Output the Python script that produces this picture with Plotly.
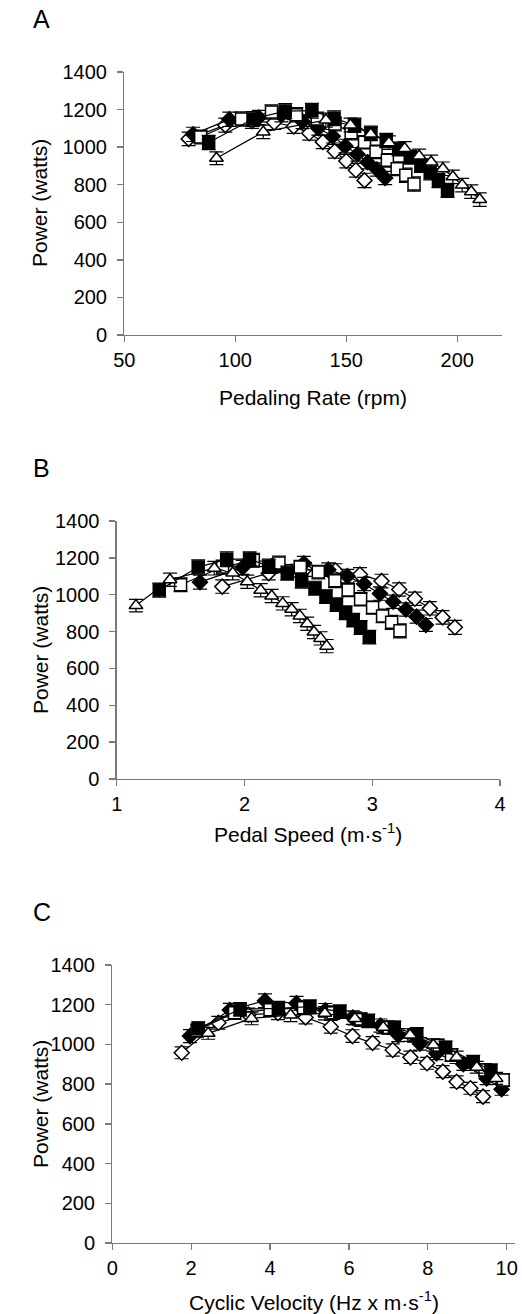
import plotly.graph_objects as go

W, H = 522, 1314

# ---------------- Panel A: pedaling rate (rpm) ----------------
rpm_open_diamond = [79, 95.5, 107.5, 117.5, 126.3, 133.3, 139.4, 144.8, 150, 154.3, 158.2]
rpm_filled_diamond = [81, 97.3, 110.6, 120.8, 130.3, 137.4, 143.9, 149.6, 155, 159.6, 163.8, 167.5]
rpm_open_square = [84.4, 102.8, 116.3, 127.5, 136.9, 144.9, 152.2, 158.2, 163.4, 168.5, 172.9, 176.8, 180.5]
rpm_filled_square = [88, 108, 122.5, 134.5, 144.5, 153.7, 161.1, 168, 173.6, 178.8, 183.6, 187.8, 191.5, 195.6]
rpm_triangle = [91.5, 112.6, 140.8, 151.9, 161, 169.2, 176.3, 182.8, 188.2, 193.5, 198, 202.2, 206.3, 210.1]

# ---------------- Panel B: pedal speed (m/s) ----------------
ps_open_diamond = [1.826, 2.19, 2.473, 2.712, 2.904, 3.073, 3.211, 3.334, 3.451, 3.551, 3.647]
ps_filled_diamond = [1.652, 1.986, 2.26, 2.465, 2.656, 2.805, 2.937, 3.06, 3.164, 3.264, 3.347, 3.42]
ps_open_square = [1.5, 1.829, 2.069, 2.27, 2.437, 2.578, 2.708, 2.812, 2.909, 3.003, 3.081, 3.152, 3.217]
ps_filled_square = [1.333, 1.638, 1.861, 2.04, 2.19, 2.335, 2.448, 2.552, 2.638, 2.72, 2.792, 2.851, 2.909, 2.977]
ps_triangle = [1.151, 1.417, 1.764, 1.908, 2.022, 2.127, 2.213, 2.299, 2.369, 2.434, 2.491, 2.544, 2.596, 2.643]

# Power (watts), shared by panels A and B
pw_open_diamond = [1044, 1117, 1138, 1131, 1110, 1074, 1028, 978, 926, 877, 823]
pw_filled_diamond = [1068, 1148, 1158, 1171, 1136, 1101, 1058, 1006, 962, 920, 881, 836]
pw_open_square = [1054, 1150, 1187, 1172, 1150, 1123, 1076, 1026, 975, 930, 885, 850, 804]
pw_filled_square = [1025, 1150, 1192, 1194, 1154, 1117, 1074, 1035, 990, 946, 902, 862, 822, 770]
pw_triangle = [941, 1081, 1144, 1118, 1070, 1024, 993, 953, 921, 885, 842, 798, 763, 721]

# Standard errors (watts)
se_open_diamond = [36, 37, 38, 37, 37, 37, 36, 36, 36, 37, 38]
se_filled_diamond = [38, 38, 38, 37, 37, 37, 36, 36, 36, 36, 35, 35]
se_open_square = [37, 38, 38, 38, 37, 37, 37, 36, 36, 36, 37, 38, 38]
se_filled_square = [38, 39, 40, 39, 39, 38, 38, 38, 37, 37, 37, 37, 37, 37]
se_triangle = [34, 36, 37, 37, 36, 36, 36, 36, 36, 36, 36, 36, 36, 36]

# ---------------- Panel C: cyclic velocity (Hz x m/s) ----------------
cv_open_diamond = [1.76, 2.69, 3.45, 4.2, 4.9, 5.54, 6.09, 6.6, 7.11, 7.56, 7.98, 8.38, 8.73, 9.08, 9.40]
pc_open_diamond = [958, 1109, 1150, 1158, 1136, 1089, 1042, 1008, 972, 935, 905, 863, 812, 779, 737]
cv_filled_diamond = [1.97, 2.98, 3.87, 4.67, 5.4, 6.1, 6.8, 7.25, 7.8, 8.22, 8.9, 9.49, 9.87]
pc_filled_diamond = [1042, 1173, 1220, 1207, 1172, 1135, 1095, 1047, 1003, 955, 900, 829, 774]
cv_open_square = [2.15, 3.1, 4.0, 4.85, 5.6, 6.3, 7.0, 7.65, 8.25, 8.6, 9.45, 9.91]
pc_open_square = [1070, 1160, 1175, 1185, 1160, 1125, 1085, 1045, 995, 947, 871, 821]
cv_filled_square = [2.18, 3.24, 4.21, 5.01, 5.77, 6.49, 7.15, 7.72, 8.45, 9.15, 9.6]
pc_filled_square = [1081, 1177, 1182, 1190, 1165, 1119, 1085, 1052, 985, 913, 870]
cv_triangle = [2.43, 3.53, 4.52, 5.39, 6.15, 6.87, 7.55, 8.14, 8.73, 9.24, 9.73]
pc_triangle = [1056, 1131, 1148, 1157, 1131, 1086, 1047, 997, 935, 885, 829]

se_c_open_diamond = [30, 32, 33, 33, 32, 32, 32, 31, 31, 31, 30, 30, 30, 30, 30]
se_c_filled_diamond = [33, 34, 35, 35, 34, 34, 33, 33, 32, 32, 31, 31, 30]
se_c_open_square = [33, 34, 35, 35, 34, 34, 33, 33, 32, 32, 31, 31]
se_c_filled_square = [33, 34, 35, 35, 34, 34, 33, 33, 32, 32, 31]
se_c_triangle = [30, 32, 33, 33, 33, 32, 32, 31, 31, 30, 30]

# ---------------- Styling ----------------
FONT = "Liberation Sans, Arial, Helvetica, sans-serif"
AXC = "#7a7a7a"
styles = {
    "open_diamond": dict(symbol="diamond", size=11.5, color="white"),
    "filled_diamond": dict(symbol="diamond", size=11.5, color="black"),
    "open_square": dict(symbol="square", size=12, color="white"),
    "filled_square": dict(symbol="square", size=12, color="black"),
    "triangle": dict(symbol="triangle-up", size=12, color="white"),
}

def px2x(px):
    return px / W

def py2y(py):
    return 1 - py / H

panels = [
    dict(ax="", xdom=(124.3, 501.7), ydom=(72, 335), xr=[50, 220], dt=50, t0=50,
         title="Pedaling Rate (rpm)", ty=397, ly=19.5, yt=203),
    dict(ax="2", xdom=(116.7, 500), ydom=(521, 779), xr=[1, 4], dt=1, t0=1,
         title="Pedal Speed (m·s<sup>-1</sup>)", ty=833, ly=468, yt=650),
    dict(ax="3", xdom=(112.3, 515), ydom=(965, 1243), xr=[0, 10.21], dt=2, t0=0,
         title="Cyclic Velocity (Hz x m·s<sup>-1</sup>)", ty=1301, ly=912, yt=1104),
]

series_A = [
    ("open_diamond", rpm_open_diamond, pw_open_diamond, se_open_diamond),
    ("filled_diamond", rpm_filled_diamond, pw_filled_diamond, se_filled_diamond),
    ("open_square", rpm_open_square, pw_open_square, se_open_square),
    ("filled_square", rpm_filled_square, pw_filled_square, se_filled_square),
    ("triangle", rpm_triangle, pw_triangle, se_triangle),
]
series_B = [
    ("open_diamond", ps_open_diamond, pw_open_diamond, se_open_diamond),
    ("filled_diamond", ps_filled_diamond, pw_filled_diamond, se_filled_diamond),
    ("open_square", ps_open_square, pw_open_square, se_open_square),
    ("filled_square", ps_filled_square, pw_filled_square, se_filled_square),
    ("triangle", ps_triangle, pw_triangle, se_triangle),
]
series_C = [
    ("open_diamond", cv_open_diamond, pc_open_diamond, se_c_open_diamond),
    ("filled_diamond", cv_filled_diamond, pc_filled_diamond, se_c_filled_diamond),
    ("open_square", cv_open_square, pc_open_square, se_c_open_square),
    ("filled_square", cv_filled_square, pc_filled_square, se_c_filled_square),
    ("triangle", cv_triangle, pc_triangle, se_c_triangle),
]

fig = go.Figure()
for p, ser in zip(panels, [series_A, series_B, series_C]):
    for name, xs, ys, es in ser:
        st = styles[name]
        fig.add_trace(go.Scatter(
            x=xs, y=ys, mode="lines+markers", name=name, showlegend=False,
            xaxis="x" + p["ax"], yaxis="y" + p["ax"],
            line=dict(color="black", width=1.2),
            marker=dict(symbol=st["symbol"], size=st["size"], color=st["color"],
                        line=dict(color="black", width=1.5)),
            error_y=dict(type="data", array=es, visible=True, color="black",
                         thickness=1.2, width=7),
            cliponaxis=False,
        ))

layout = dict(
    template="none",
    width=W, height=H, margin=dict(l=0, r=0, t=0, b=0, autoexpand=False),
    paper_bgcolor="white", plot_bgcolor="white",
    font=dict(family=FONT, size=20, color="black"),
    annotations=[],
)
for p in panels:
    xa = dict(domain=[px2x(p["xdom"][0]), px2x(p["xdom"][1])], range=p["xr"],
              anchor="y" + p["ax"], showline=True, linecolor=AXC, linewidth=1.3,
              ticks="outside", ticklen=6, tickwidth=1.3, tickcolor=AXC,
              tick0=p["t0"], dtick=p["dt"], showgrid=False, zeroline=False,
              automargin=False,
              tickfont=dict(size=20, family=FONT, color="black"), ticklabelstandoff=1)
    ya = dict(domain=[py2y(p["ydom"][1]), py2y(p["ydom"][0])], range=[0, 1400],
              anchor="x" + p["ax"], showline=True, linecolor=AXC, linewidth=1.3,
              ticks="outside", ticklen=6, tickwidth=1.3, tickcolor=AXC,
              tick0=0, dtick=200, showgrid=False, zeroline=False,
              automargin=False,
              tickfont=dict(size=20, family=FONT, color="black"), ticklabelstandoff=6)
    layout["xaxis" + p["ax"]] = xa
    layout["yaxis" + p["ax"]] = ya
    xc = (p["xdom"][0] + p["xdom"][1]) / 2
    layout["annotations"].append(dict(
        text=p["title"], x=px2x(xc), y=py2y(p["ty"]), xref="paper", yref="paper",
        showarrow=False, xanchor="center", yanchor="middle",
        font=dict(size=21, family=FONT, color="black")))
    layout["annotations"].append(dict(
        text="Power (watts)", x=px2x(40), y=py2y(p["yt"]), xref="paper", yref="paper",
        showarrow=False, xanchor="center", yanchor="middle", textangle=-90,
        font=dict(size=21, family=FONT, color="black")))

for letter, ly in zip(["A", "B", "C"], [p["ly"] for p in panels]):
    layout["annotations"].append(dict(
        text=letter, x=px2x(41.5), y=py2y(ly), xref="paper", yref="paper",
        showarrow=False, xanchor="center", yanchor="middle",
        font=dict(size=25, family=FONT, color="black")))

fig.update_layout(**layout)
fig.write_html(
    "out.html",
    config={"displayModeBar": False, "staticPlot": True},
    post_script="document.body.style.margin='0';document.body.style.padding='0';",
)
